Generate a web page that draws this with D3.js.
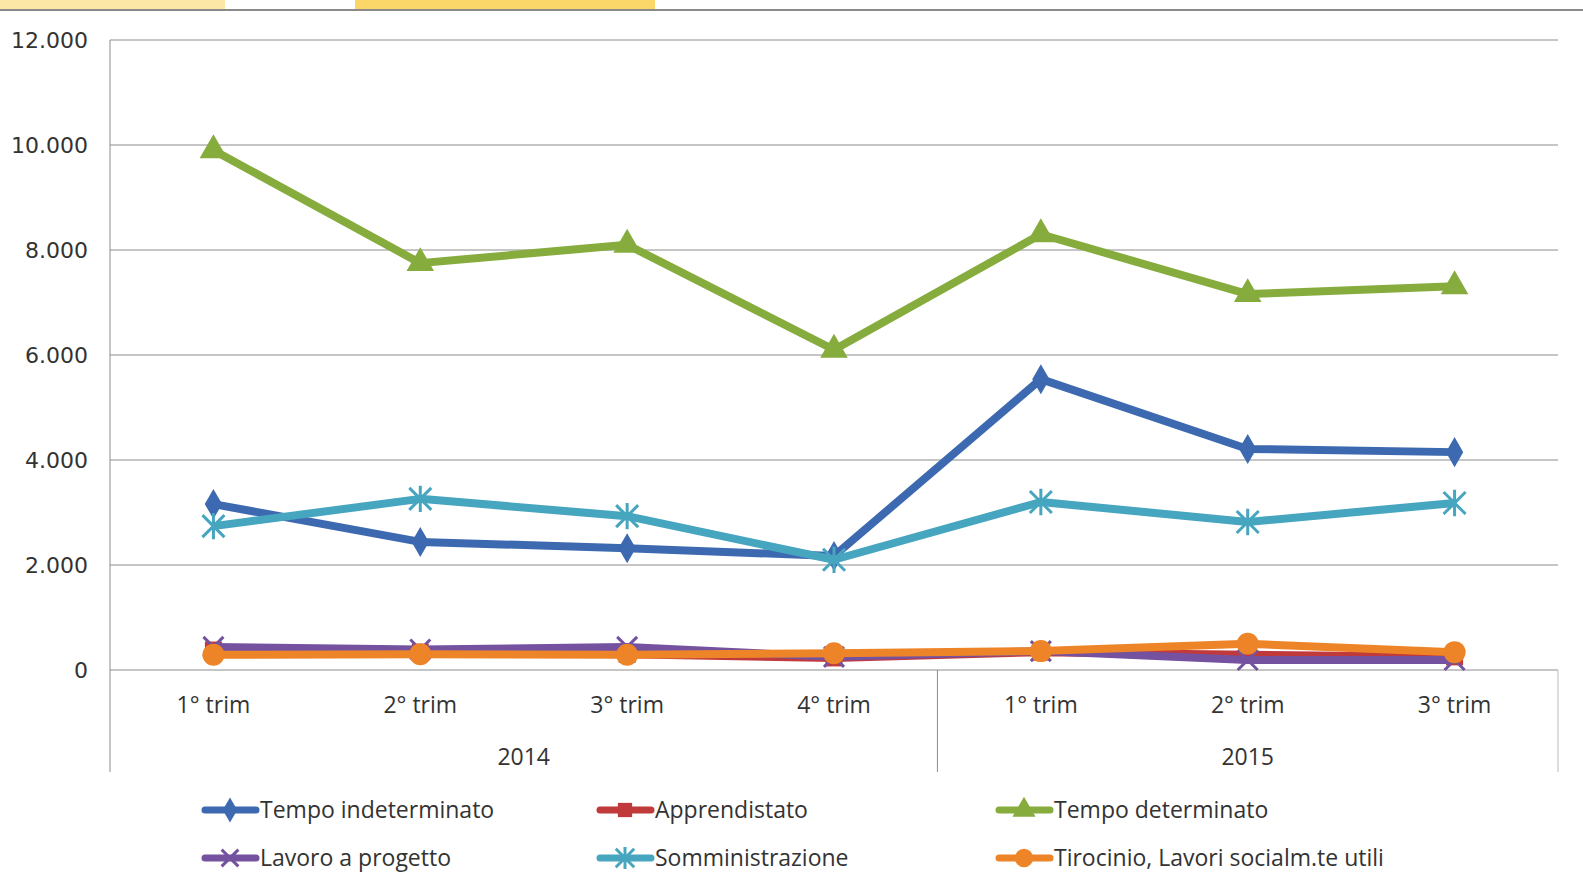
<!DOCTYPE html>
<html><head><meta charset="utf-8">
<script src="https://cdn.jsdelivr.net/npm/d3@7"></script>
<style>
body{margin:0;background:#fff;}
svg{display:block;font-family:"Liberation Sans Narrow","Open Sans","Noto Sans",sans-serif;}
</style></head><body>
<svg id="c" width="1583" height="896"></svg>
<script>
const quarters = ["1° trim","2° trim","3° trim","4° trim","1° trim","2° trim","3° trim"];
const years = ["2014","2015"];
const yearSpans = [[0,3],[4,6]];
const yTicks = [0,2000,4000,6000,8000,10000,12000];
const seriesNames = ["Tempo indeterminato","Apprendistato","Tempo determinato","Lavoro a progetto","Somministrazione","Tirocinio, Lavori socialm.te utili"];
const tempoIndeterminato = [3160,2440,2320,2170,5540,4210,4150];
const apprendistato = [380,340,300,230,340,290,250];
const tempoDeterminato = [9900,7750,8100,6100,8300,7160,7310];
const lavoroProgetto = [440,390,440,250,360,190,190];
const somministrazione = [2740,3260,2930,2100,3200,2820,3180];
const tirocinio = [290,300,290,320,360,500,340];
const seriesValues = [tempoIndeterminato,apprendistato,tempoDeterminato,lavoroProgetto,somministrazione,tirocinio];
const colors = ["#3D69B0","#C0393B","#86AC3E","#7452A0","#46A5BF","#EE8428"];
const markers = ["diamond","square","triangle","x","star","circle"];
const svg = d3.select("#c");

// top decoration
svg.append("rect").attr("x",0).attr("y",0).attr("width",225).attr("height",9).attr("fill","#FCE7A6");
svg.append("rect").attr("x",355).attr("y",0).attr("width",300).attr("height",9).attr("fill","#FBD669");
svg.append("rect").attr("x",0).attr("y",9).attr("width",1583).attr("height",2).attr("fill","#8a8a8a");

const L=110,R=1558,T=40,B=670;
const x = d3.scaleBand().domain(d3.range(quarters.length)).range([L,R]);
const y = d3.scaleLinear().domain([0,12000]).range([B,T]);
const fmt = d3.format(",");
const itFmt = v => fmt(v).replace(/,/g,".");

svg.append("g").selectAll("line").data(yTicks).join("line")
  .attr("x1",L).attr("x2",R).attr("y1",d=>y(d)).attr("y2",d=>y(d))
  .attr("stroke","#8c8c8c").attr("stroke-width",1);
svg.append("g").selectAll("text").data(yTicks).join("text")
  .attr("x",88).attr("y",d=>y(d)).attr("dy","0.35em").attr("text-anchor","end")
  .attr("font-size",22).attr("fill","#333").style("font-family","'DejaVu Sans','Open Sans',sans-serif")
  .text(d=>itFmt(d));
svg.append("line").attr("x1",L).attr("x2",L).attr("y1",T).attr("y2",772).attr("stroke","#8c8c8c");
svg.append("line").attr("x1",R).attr("x2",R).attr("y1",B).attr("y2",772).attr("stroke","#bbb");
const sepX = x(yearSpans[1][0]);
svg.append("line").attr("x1",sepX).attr("x2",sepX).attr("y1",B).attr("y2",772).attr("stroke","#8c8c8c");
svg.append("g").selectAll("text").data(quarters).join("text")
  .attr("x",(d,i)=>x(i)+x.bandwidth()/2).attr("y",713).attr("text-anchor","middle")
  .attr("font-size",23).attr("fill","#333").text(d=>d);
svg.append("g").selectAll("text").data(years).join("text")
  .attr("x",(d,i)=>(x(yearSpans[i][0])+x(yearSpans[i][1])+x.bandwidth())/2).attr("y",765).attr("text-anchor","middle")
  .attr("font-size",23).attr("fill","#333").text(d=>d);

function markerPath(type,k){
  switch(type){
    case "diamond": return d3.symbol(d3.symbolDiamond,260*k)();
    case "square": return d3.symbol(d3.symbolSquare,290*k)();
    case "triangle": return d3.symbol(d3.symbolTriangle,330*k)();
    case "circle": return d3.symbol(d3.symbolCircle,380*k)();
    case "x": { const a=10*Math.sqrt(k); return `M${-a},${-a}L${a},${a}M${-a},${a}L${a},${-a}`; }
    case "star": { const a=11*Math.sqrt(k); return `M${-a},${-a}L${a},${a}M${-a},${a}L${a},${-a}M0,${-a*1.2}L0,${a*1.2}`; }
  }
}
function drawMarker(g,type,color,k){
  const p = g.append("path").attr("d",markerPath(type,k));
  if(type==="x"||type==="star") p.attr("fill","none").attr("stroke",color).attr("stroke-width",3);
  else p.attr("fill",color);
}

const line = d3.line().x((d,i)=>x(i)+x.bandwidth()/2).y(d=>y(d));
seriesValues.forEach((vals,s)=>{
  const g = svg.append("g");
  g.append("path").datum(vals).attr("d",line).attr("fill","none")
    .attr("stroke",colors[s]).attr("stroke-width",8).attr("stroke-linejoin","round");
  vals.forEach((v,i)=>{
    const mg = g.append("g").attr("transform",`translate(${x(i)+x.bandwidth()/2},${y(v)})`);
    drawMarker(mg,markers[s],colors[s],1);
  });
});

const legX=[203,598,997], legY=[810,858];
seriesNames.forEach((n,i)=>{
  const col=i%3,row=Math.floor(i/3);
  const g = svg.append("g").attr("transform",`translate(${legX[col]},${legY[row]})`);
  g.append("line").attr("x1",2).attr("x2",53).attr("y1",0).attr("y2",0)
    .attr("stroke",colors[i]).attr("stroke-width",7).attr("stroke-linecap","round");
  drawMarker(g.append("g").attr("transform","translate(27,0)"),markers[i],colors[i],0.7);
  g.append("text").attr("x",57).attr("y",0).attr("dy","0.35em").attr("font-size",23)
    .attr("fill","#333").text(n);
});
</script>
</body></html>
